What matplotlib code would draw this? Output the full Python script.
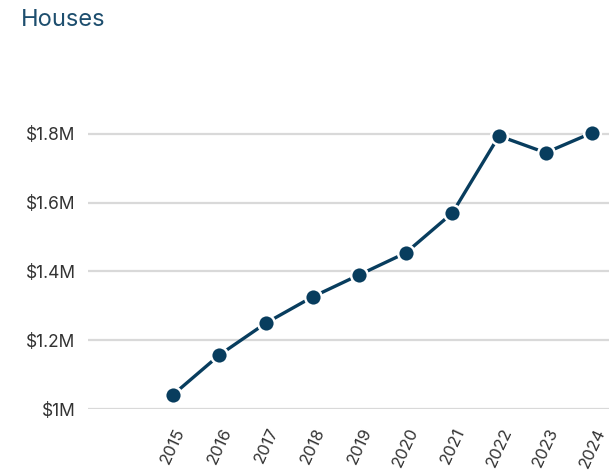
import matplotlib
matplotlib.use("Agg")
import matplotlib.pyplot as plt
from matplotlib.ticker import FuncFormatter

years = [2015, 2016, 2017, 2018, 2019, 2020, 2021, 2022, 2023, 2024]
prices = [1.041, 1.157, 1.250, 1.326, 1.390, 1.454, 1.570, 1.794, 1.745, 1.803]  # $M
yticks = [1.0, 1.2, 1.4, 1.6, 1.8]

plt.rcParams['font.family'] = ['Inter', 'DejaVu Sans']

fig = plt.figure(figsize=(6.09, 4.71), dpi=100)
ax = fig.add_axes([88 / 609, (471 - 409) / 471, 1 - 88 / 609, (409 - 65) / 471])

ax.plot(years, prices, color="#083d5e", linewidth=2.4, marker="o",
        markersize=12, markerfacecolor="#083d5e", markeredgecolor="white",
        markeredgewidth=1.8, clip_on=False, zorder=3)

ax.set_ylim(1.0, 2.0)
ax.set_xlim(2013.18, 2024.36)
ax.set_yticks(yticks)
ax.yaxis.set_major_formatter(FuncFormatter(lambda v, p: f"${v:g}M"))
ax.set_xticks(years)
ax.set_xticklabels([str(y) for y in years], rotation=65, ha="center")

ax.grid(axis="y", color="#d9d9d9", linewidth=1.6)
ax.set_axisbelow(True)
for s in ax.spines.values():
    s.set_visible(False)
ax.tick_params(axis="y", length=0, pad=9, labelsize=12.5, labelcolor="#333333")
ax.tick_params(axis="x", length=0, pad=12, labelsize=12, labelcolor="#333333")

fig.text(21 / 609, 1 - 26 / 471, "Houses", fontsize=17, color="#1d4e6e",
         ha="left", va="baseline")

fig.savefig("out.png", dpi=100)
